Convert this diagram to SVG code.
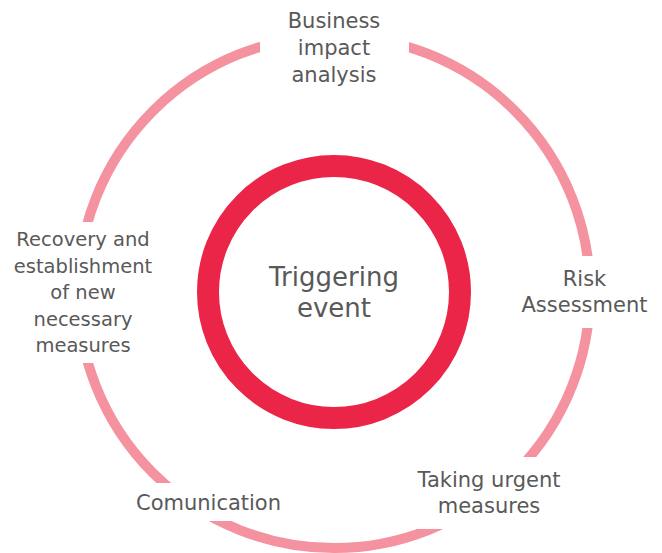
<svg xmlns="http://www.w3.org/2000/svg" width="662" height="553" viewBox="0 0 662 553">
<style>
.ring{fill:none;stroke:#f4929f;stroke-width:10}
.core{fill:none;stroke:#ea2548;stroke-width:22}
.bg{fill:#ffffff}
text{font-family:"DejaVu Sans","Verdana",sans-serif;fill:#595959;text-anchor:middle}
.lbl{font-size:21px}
.sm{font-size:19.5px}
.ctr{font-size:26px}
</style>
<rect width="662" height="553" fill="#ffffff"/>
<g id="connectors">
<circle class="ring" cx="334" cy="292" r="256"/>
</g>
<g id="center">
<circle class="core" cx="334" cy="292" r="126"/>
<text class="ctr" x="334" y="286">Triggering</text>
<text class="ctr" x="334" y="317">event</text>
</g>
<g id="bia">
<rect class="bg" x="260" y="0" width="149" height="95"/>
<text class="lbl" x="334" y="28">Business</text>
<text class="lbl" x="334" y="55">impact</text>
<text class="lbl" x="334" y="82">analysis</text>
</g>
<g id="risk">
<rect class="bg" x="510" y="256" width="152" height="72"/>
<text class="lbl" x="584.5" y="286">Risk</text>
<text class="lbl" x="584.5" y="312">Assessment</text>
</g>
<g id="urgent">
<rect class="bg" x="403" y="457" width="175" height="72"/>
<text class="lbl" x="489" y="487">Taking urgent</text>
<text class="lbl" x="489" y="513">measures</text>
</g>
<g id="communication">
<rect class="bg" x="120" y="483" width="180" height="38"/>
<text class="lbl" x="208.5" y="510">Comunication</text>
</g>
<g id="recovery">
<rect class="bg" x="0" y="222" width="170" height="141"/>
<text class="sm" x="83" y="246">Recovery and</text>
<text class="sm" x="83" y="273">establishment</text>
<text class="sm" x="83" y="299">of new</text>
<text class="sm" x="83" y="326">necessary</text>
<text class="sm" x="83" y="352">measures</text>
</g>
</svg>
